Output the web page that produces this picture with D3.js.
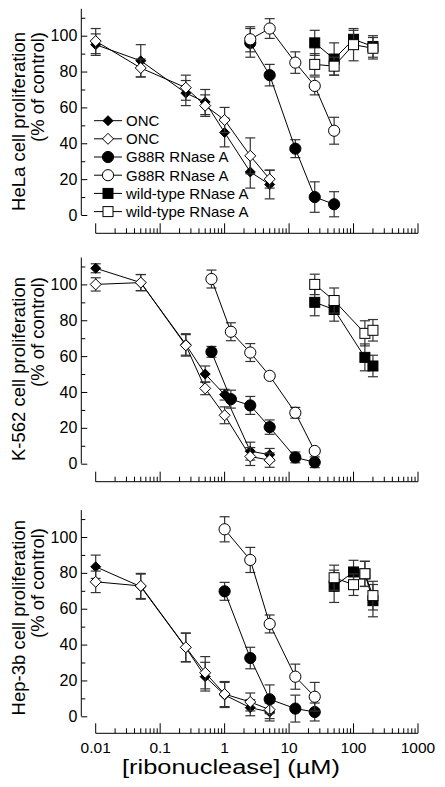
<!DOCTYPE html>
<html><head><meta charset="utf-8">
<script src="https://cdn.jsdelivr.net/npm/d3@7"></script>
<style>body{margin:0;background:#fff}svg{display:block}text{font-family:"Liberation Sans",Arial,sans-serif;fill:#000}</style>
</head><body>
<script>
// ---------- DATA ----------
const oncConc = [0.01, 0.05, 0.25, 0.5, 1, 2.5, 5];
const helaG88Conc = [2.5, 5, 12.5, 25, 50];
const helaWtConc = [25, 50, 100, 200];
const k562G88Conc = [0.625, 1.25, 2.5, 5, 12.5, 25];
const k562WtConc = [25, 50, 150, 200];
const hepG88Conc = [1, 2.5, 5, 12.5, 25];
const hepWtConc = [50, 100, 150, 200];

const helaOncFilled = [95, 86, 68, 63, 46, 24, 17];
const helaOncFilledErr = [6, 9, 7, 7, 8, 9, 8];
const helaOncOpen = [97, 82, 71, 61, 53, 33, 20];
const helaOncOpenErr = [7, 5, 7, 6, 7, 10, 5];
const helaG88Filled = [96, 78, 37, 10, 6];
const helaG88FilledErr = [8, 6, 5, 8.5, 7];
const helaG88Open = [98, 104, 85, 72, 47];
const helaG88OpenErr = [7, 5.5, 6, 5, 7.5];
const helaWtFilled = [96, 87, 98, 94];
const helaWtFilledErr = [7, 9, 5, 6];
const helaWtOpen = [84, 83, 95, 93];
const helaWtOpenErr = [6, 5, 9, 6];

const k562OncFilled = [109, 101, 66.5, 50, 38.5, 7, 5];
const k562OncFilledErr = [2.5, 4.5, 6, 4.5, 3, 5, 3.5];
const k562OncOpen = [100, 101, 66, 42, 27, 4, 2];
const k562OncOpenErr = [3.7, 4.5, 6, 3.5, 4.7, 5, 4];
const k562G88Filled = [62.4, 36, 32.5, 20.4, 3.5, 0.8];
const k562G88FilledErr = [3, 5, 5, 4, 3, 3];
const k562G88Open = [103, 73.6, 62, 49, 28.4, 7.1];
const k562G88OpenErr = [5, 5, 5, 1, 3, 1];
const k562WtFilled = [90, 86, 59.3, 54.5];
const k562WtFilledErr = [7.5, 6.5, 7.5, 6];
const k562WtOpen = [100, 91, 72.7, 74.4];
const k562WtOpenErr = [5.7, 7, 7, 6];

const hepOncFilled = [83.4, 72.3, 38.3, 22.1, 11.9, 4.8, 2.4];
const hepOncFilledErr = [6.5, 7, 8, 8, 7, 4.5, 5];
const hepOncOpen = [75, 72.7, 38.5, 24.3, 12.4, 8, 3.7];
const hepOncOpenErr = [6, 7, 8, 9, 7, 5, 5];
const hepG88Filled = [69.7, 32.5, 9.5, 4.3, 2.4];
const hepG88FilledErr = [5, 6, 8, 7.5, 5];
const hepG88Open = [104.3, 87.2, 51.5, 22.1, 10.9];
const hepG88OpenErr = [7, 7, 5, 7, 8];
const hepWtFilled = [72.5, 80.5, 79.4, 64.5];
const hepWtFilledErr = [9, 6.5, 7, 9];
const hepWtOpen = [77.3, 73.4, 79.5, 67.3];
const hepWtOpenErr = [7, 6, 7, 8];

const legendLabels = ["ONC", "ONC", "G88R RNase A", "G88R RNase A", "wild-type RNase A", "wild-type RNase A"];
const yMajorTicks = [0, 20, 40, 60, 80, 100];
const yMinorTicks = [10, 30, 50, 70, 90, 110];
const xTickLabels = ["0.01", "0.1", "1", "10", "100", "1000"];
const xMajorTicks = [0.01, 0.1, 1, 10, 100, 1000];
const yTitles = ["HeLa cell proliferation", "K-562 cell proliferation", "Hep-3b cell proliferation"];
const yTitle2 = "(% of control)";
const xTitle = "[ribonuclease] (\u00b5M)";

// ---------- LAYOUT ----------
const W = 445, H = 787;
const svg = d3.select("body").append("svg").attr("width", W).attr("height", H);
const x = d3.scaleLog().domain([0.01, 1000]).range([95.7, 418]);
const axisX = 81.3;

const panels = [
  {y0: 215, yx: 233.3, t1: 32, t2: 32, series: [
    {kind: "diamond", fill: true, c: oncConc, v: helaOncFilled, e: helaOncFilledErr},
    {kind: "diamond", fill: false, c: oncConc, v: helaOncOpen, e: helaOncOpenErr},
    {kind: "circle", fill: true, c: helaG88Conc, v: helaG88Filled, e: helaG88FilledErr},
    {kind: "circle", fill: false, c: helaG88Conc, v: helaG88Open, e: helaG88OpenErr},
    {kind: "square", fill: true, c: helaWtConc, v: helaWtFilled, e: helaWtFilledErr},
    {kind: "square", fill: false, c: helaWtConc, v: helaWtOpen, e: helaWtOpenErr}]},
  {y0: 463.7, yx: 481.7, t1: 277, t2: 277, series: [
    {kind: "diamond", fill: true, c: oncConc, v: k562OncFilled, e: k562OncFilledErr},
    {kind: "diamond", fill: false, c: oncConc, v: k562OncOpen, e: k562OncOpenErr},
    {kind: "circle", fill: true, c: k562G88Conc, v: k562G88Filled, e: k562G88FilledErr},
    {kind: "circle", fill: false, c: k562G88Conc, v: k562G88Open, e: k562G88OpenErr},
    {kind: "square", fill: true, c: k562WtConc, v: k562WtFilled, e: k562WtFilledErr},
    {kind: "square", fill: false, c: k562WtConc, v: k562WtOpen, e: k562WtOpenErr}]},
  {y0: 716.3, yx: 733.3, t1: 520, t2: 528, series: [
    {kind: "diamond", fill: true, c: oncConc, v: hepOncFilled, e: hepOncFilledErr},
    {kind: "diamond", fill: false, c: oncConc, v: hepOncOpen, e: hepOncOpenErr},
    {kind: "circle", fill: true, c: hepG88Conc, v: hepG88Filled, e: hepG88FilledErr},
    {kind: "circle", fill: false, c: hepG88Conc, v: hepG88Open, e: hepG88OpenErr},
    {kind: "square", fill: true, c: hepWtConc, v: hepWtFilled, e: hepWtFilledErr},
    {kind: "square", fill: false, c: hepWtConc, v: hepWtOpen, e: hepWtOpenErr}]}
];
const pxPerUnit = 1.793;

function drawMarker(g, kind, fill, cx, cy) {
  const f = fill ? "#000" : "#fff";
  if (kind === "circle") {
    g.append("circle").attr("cx", cx).attr("cy", cy).attr("r", 5.6)
      .attr("fill", f).attr("stroke", "#000").attr("stroke-width", 1);
  } else if (kind === "square") {
    const s = 10;
    g.append("rect").attr("x", cx - s/2).attr("y", cy - s/2).attr("width", s).attr("height", s)
      .attr("fill", f).attr("stroke", "#000").attr("stroke-width", 1);
  } else {
    const r = fill ? 5 : 5.5;
    g.append("path").attr("d", `M${cx},${cy-r}L${cx+r},${cy}L${cx},${cy+r}L${cx-r},${cy}Z`)
      .attr("fill", f).attr("stroke", "#000").attr("stroke-width", 1);
  }
}

panels.forEach((p, pi) => {
  const y = d3.scaleLinear().domain([0, 115]).range([p.y0, p.y0 - 115 * pxPerUnit]);
  const g = svg.append("g");

  // Y axis line
  g.append("line").attr("x1", axisX).attr("x2", axisX).attr("y1", y(0)).attr("y2", y(115))
    .attr("stroke", "#000").attr("stroke-width", 1);
  const yMaj = d3.axisLeft(y).tickValues(yMajorTicks).tickSize(-6).tickPadding(4).tickFormat(d3.format("d"));
  const ya = g.append("g").attr("transform", `translate(${axisX},0)`).call(yMaj);
  ya.select(".domain").remove();
  ya.selectAll("line").attr("stroke", "#000");
  ya.selectAll("text").attr("font-size", 16).attr("font-family", "Liberation Sans, Arial, sans-serif")
    .attr("x", -4);
  const yMin = d3.axisLeft(y).tickValues(yMinorTicks).tickSize(-4).tickFormat("");
  const yb = g.append("g").attr("transform", `translate(${axisX},0)`).call(yMin);
  yb.select(".domain").remove();
  yb.selectAll("line").attr("stroke", "#000");

  // X axis
  g.append("line").attr("x1", x(0.01)).attr("x2", x(1000)).attr("y1", p.yx).attr("y2", p.yx)
    .attr("stroke", "#000").attr("stroke-width", 1);
  const allTicks = x.ticks();
  allTicks.forEach(t => {
    const major = xMajorTicks.some(m => Math.abs(Math.log10(m) - Math.log10(t)) < 1e-6);
    g.append("line").attr("x1", x(t)).attr("x2", x(t)).attr("y1", p.yx).attr("y2", p.yx - (major ? 10 : 5))
      .attr("stroke", "#000").attr("stroke-width", 1);
  });
  if (pi === 2) {
    xMajorTicks.forEach((t, i) => {
      g.append("text").attr("x", x(t)).attr("y", p.yx + 20).attr("text-anchor", "middle")
        .attr("font-size", 15.5).text(xTickLabels[i]);
    });
    g.append("text").attr("x", 122).attr("y", 774)
      .attr("font-size", 20).attr("textLength", 218).attr("lengthAdjust", "spacingAndGlyphs").text(xTitle);
  }

  // Y titles
  g.append("text").attr("transform", `translate(25,${p.t1}) rotate(-90)`).attr("text-anchor", "end")
    .attr("font-size", 18.5).text(yTitles[pi]);
  g.append("text").attr("transform", `translate(44,${p.t2}) rotate(-90)`).attr("text-anchor", "end")
    .attr("font-size", 18.5).text(yTitle2);

  // series
  p.series.forEach(s => {
    const sg = g.append("g");
    const pts = s.c.map((c, i) => ({c, v: s.v[i], e: s.e[i]}));
    pts.forEach(d => {
      const cx = x(d.c);
      sg.append("line").attr("x1", cx).attr("x2", cx).attr("y1", y(d.v - d.e)).attr("y2", y(d.v + d.e))
        .attr("stroke", "#333").attr("stroke-width", 1.2);
      [d.v - d.e, d.v + d.e].forEach(ev => {
        sg.append("line").attr("x1", cx - 5).attr("x2", cx + 5).attr("y1", y(ev)).attr("y2", y(ev))
          .attr("stroke", "#333").attr("stroke-width", 1.2);
      });
    });
    sg.append("path").datum(pts)
      .attr("d", d3.line().x(d => x(d.c)).y(d => y(d.v)))
      .attr("fill", "none").attr("stroke", "#000").attr("stroke-width", 1);
    pts.forEach(d => drawMarker(sg, s.kind, s.fill, x(d.c), y(d.v)));
  });

  if (pi === 0) {
    const lg = g.append("g");
    const rowsY = [120.7, 138.8, 157, 175.2, 193.4, 211.6];
    p.series.forEach((s, i) => {
      const ly = rowsY[i];
      lg.append("line").attr("x1", 94).attr("x2", 122).attr("y1", ly).attr("y2", ly)
        .attr("stroke", "#000").attr("stroke-width", 1);
      drawMarker(lg, s.kind, s.fill, 108, ly);
      lg.append("text").attr("x", 126).attr("y", ly + 5.3).attr("font-size", 15).text(legendLabels[i]);
    });
  }
});
</script>
</body></html>
